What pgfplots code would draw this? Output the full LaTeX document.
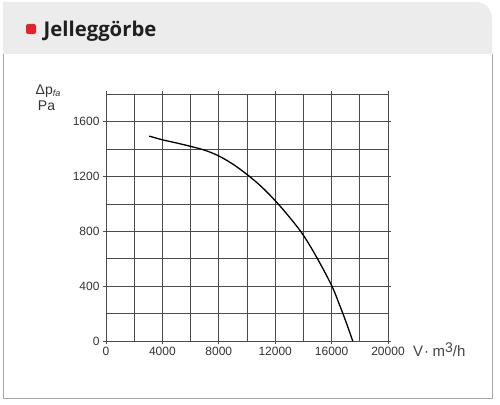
\documentclass[border=0pt]{standalone}
\usepackage{fontspec}
\setmainfont{Liberation Sans}
\newfontfamily\titlefont{Open Sans}
\usepackage{pgfplots}
\pgfplotsset{compat=1.18}
\definecolor{hdrgray}{HTML}{ECECEC}
\definecolor{framegray}{HTML}{A8A8A8}
\definecolor{markred}{HTML}{E8202A}
\definecolor{gridgray}{HTML}{4A4A4A}
\definecolor{txt}{HTML}{333333}
\definecolor{unittxt}{HTML}{444444}
\begin{document}
\begin{tikzpicture}[x=1pt,y=1pt]
\useasboundingbox (0,0) rectangle (500,404);
% header band with rounded top-right corner
\fill[hdrgray] (3,350) -- (3,402) -- (476,402) arc[start angle=90,end angle=0,radius=16] -- (492,350) -- cycle;
% panel frame
\draw[framegray, line width=1pt] (3,350) -- (3,6) -- (492,6) -- (492,350);
% title
\fill[markred, rounded corners=2pt] (26,370) rectangle (36,380);
\node[anchor=base west, inner sep=0pt, text=black!88] at (43.5,367.3) {\titlefont\bfseries\fontsize{20.3}{22}\selectfont Jelleggörbe};
% axis titles
\node[anchor=base, inner sep=0pt, text=txt] at (48,309) {\fontsize{14}{14}\selectfont Δp\raisebox{-0.25ex}{\fontsize{9}{9}\selectfont\itshape fa}};
\node[anchor=base, inner sep=0pt, text=txt] at (46.5,293) {\fontsize{14}{14}\selectfont Pa};
\node[anchor=base west, inner sep=0pt, text=unittxt] at (413,48) {\fontsize{15}{15}\selectfont V\kern1pt·\kern3.5pt m\raisebox{0.5ex}{\fontsize{14}{14}\selectfont 3}/h};
\begin{axis}[
  at={(106pt,63pt)}, anchor=south west,
  scale only axis, width=282pt, height=246.7pt,
  xmin=0, xmax=20000, ymin=0, ymax=1800,
  xtick={0,4000,...,20000}, ytick={0,400,...,1600},
  minor xtick={2000,6000,...,18000},
  minor ytick={200,600,1000,1400,1800},
  grid=both,
  major grid style={gridgray, line width=0.8pt},
  minor grid style={gridgray, line width=0.8pt},
  axis line style={gridgray, line width=0.8pt},
  tick align=outside, major tick length=3pt, minor tick length=0pt,
  tick style={gridgray, line width=0.8pt},
  scaled ticks=false,
  /pgf/number format/1000 sep={},
  /pgf/number format/assume math mode=true,
  tick label style={font=\fontsize{12}{12}\selectfont, text=txt},
]
% fan characteristic: static pressure against air flow
\addplot[black, line width=1.3pt, smooth, tension=0.6] coordinates {
  (3070,1495) (4000,1468) (5000,1445) (6000,1420) (7000,1392)
  (8000,1350) (9000,1290) (10000,1215) (11000,1128) (12000,1024)
  (13000,905) (14000,771) (15000,600) (16000,405) (16500,280)
  (17000,145) (17500,0)
};
\end{axis}
\end{tikzpicture}
\end{document}
